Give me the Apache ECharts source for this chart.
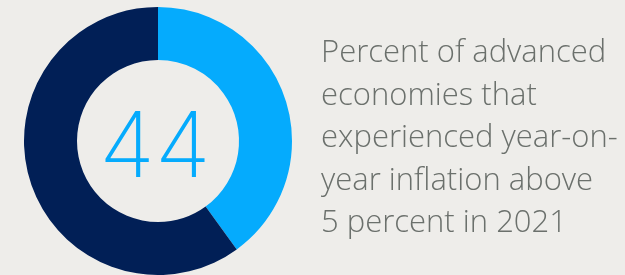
<!DOCTYPE html>
<html>
<head>
<meta charset="utf-8">
<script src="https://cdn.jsdelivr.net/npm/echarts@6/dist/echarts.min.js"></script>
<style>
  html, body { margin: 0; padding: 0; background: #eeedea; }
  #chart { width: 625px; height: 275px; }
</style>
</head>
<body>
<div id="chart"></div>
<script>
// share of the ring as drawn (light blue slice vs the rest)
var sliceNames = ['Above 5 percent', 'Other'];
var sliceValues = [40, 60];
var sliceColors = ['#05abfd', '#011f56'];
var centerLabel = '44';
var captionLines = [
  'Percent of advanced',
  'economies that',
  'experienced year-on-',
  'year inflation above',
  '5 percent in 2021'
];

var dom = document.getElementById('chart');
var myChart = echarts.init(dom, null, { renderer: 'canvas' });

var option = {
  backgroundColor: '#eeedea',
  animation: false,
  graphic: [
    {
      type: 'text',
      x: 321,
      y: 32,
      z: 10,
      style: {
        text: captionLines.join('\n'),
        font: '300 31px "Open Sans"',
        lineHeight: 42.5,
        verticalAlign: 'top',
        fill: '#6b706c'
      }
    },
    {
      // big number in the hole
      type: 'text',
      x: 155,
      y: 150,
      z: 10,
      style: {
        text: centerLabel,
        font: '200 91px Inter',
        align: 'center',
        verticalAlign: 'middle',
        fill: '#05abfd'
      }
    }
  ],
  series: [
    {
      type: 'pie',
      center: [158, 141],
      radius: [81, 134],
      startAngle: 90,
      clockwise: true,
      silent: true,
      label: { show: false },
      labelLine: { show: false },
      emphasis: { disabled: true },
      data: sliceValues.map(function (v, i) {
        return {
          name: sliceNames[i],
          value: v,
          itemStyle: { color: sliceColors[i] }
        };
      })
    }
  ]
};

myChart.setOption(option);
window.addEventListener('resize', myChart.resize);
</script>
</body>
</html>
